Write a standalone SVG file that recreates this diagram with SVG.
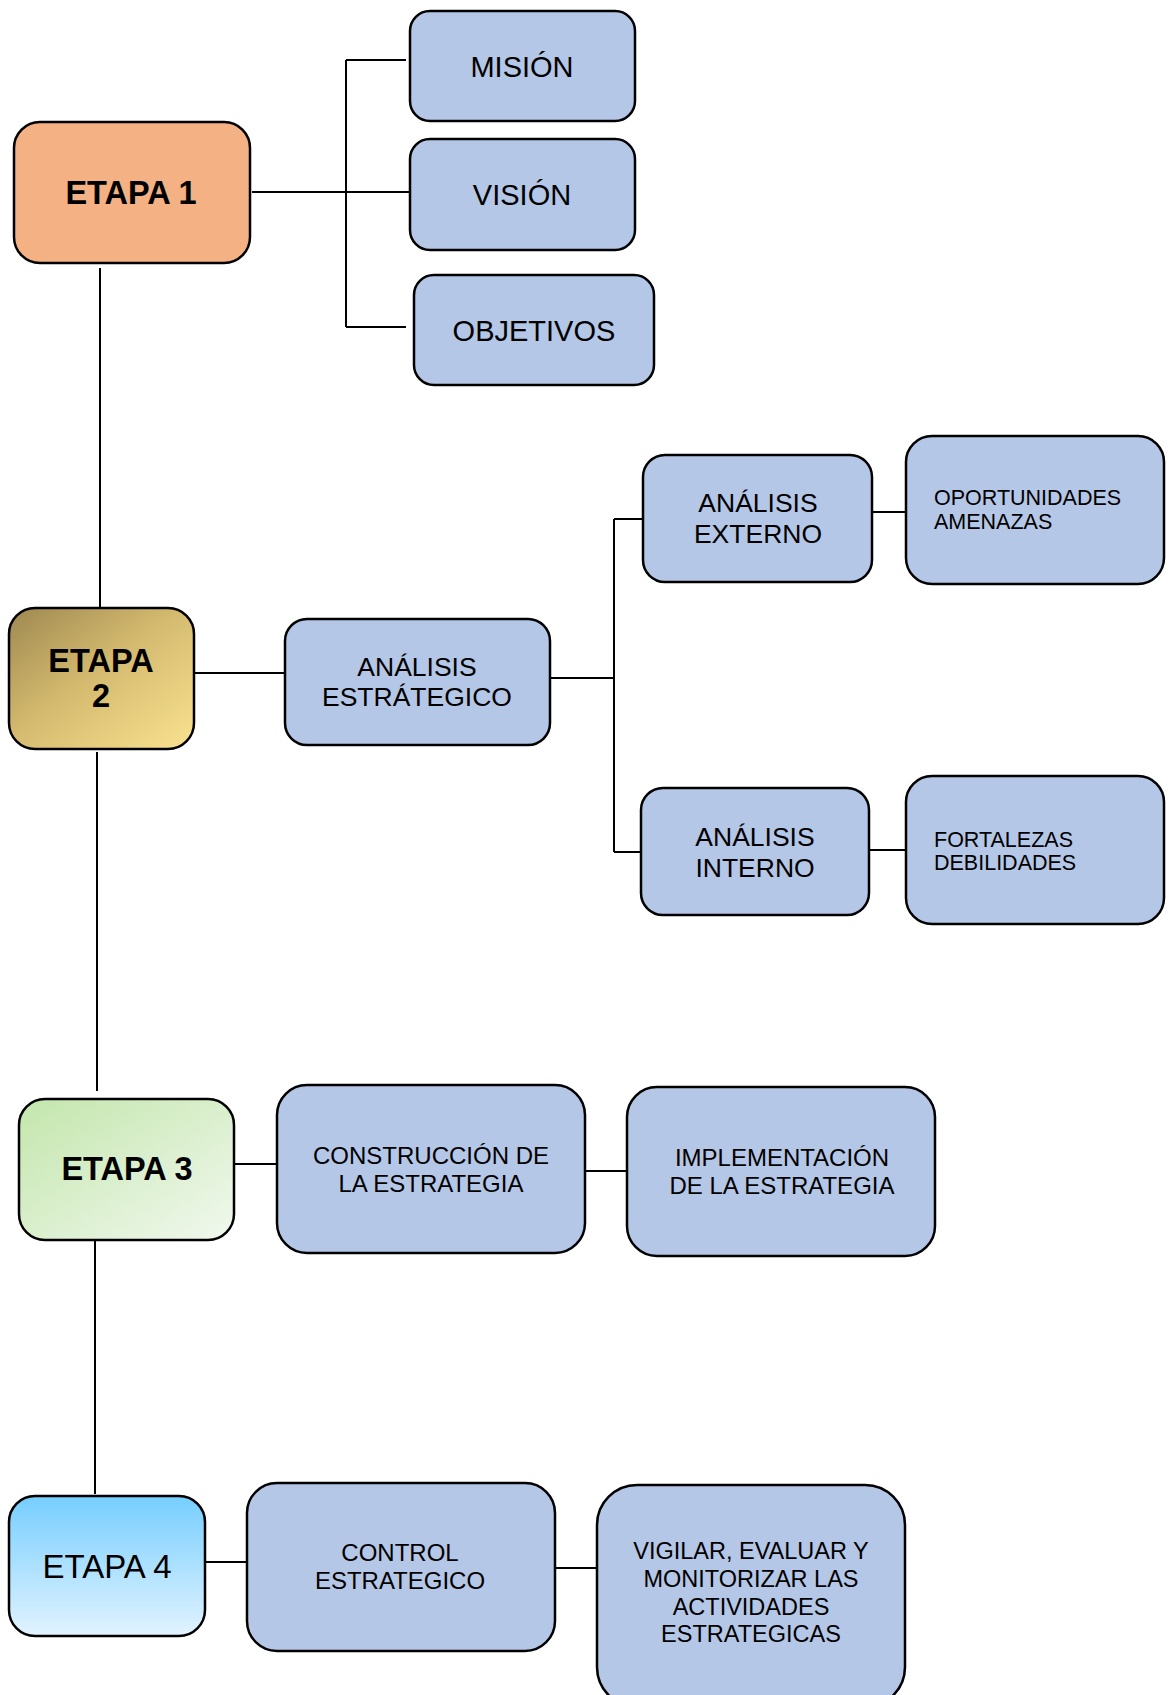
<svg xmlns="http://www.w3.org/2000/svg" width="1169" height="1695" viewBox="0 0 1169 1695">
<defs>
<linearGradient id="g2" x1="0" y1="0" x2="1" y2="1">
<stop offset="0" stop-color="#9E8851"/>
<stop offset="0.45" stop-color="#D3B96E"/>
<stop offset="1" stop-color="#F9E290"/>
</linearGradient>
<linearGradient id="g3" x1="0" y1="0" x2="1" y2="1">
<stop offset="0" stop-color="#C3E6AC"/>
<stop offset="1" stop-color="#F1F8EE"/>
</linearGradient>
<linearGradient id="g4" x1="0" y1="0" x2="0" y2="1">
<stop offset="0" stop-color="#76CEFF"/>
<stop offset="1" stop-color="#E2F3FF"/>
</linearGradient>
</defs>
<style>
.box{stroke:#000;stroke-width:2.5}
.blue{fill:#B4C7E7}
.t{font-family:"Liberation Sans",Arial,sans-serif;fill:#000;text-anchor:middle}
.b{font-weight:bold}
.l{text-anchor:start}
.c{stroke:#000;stroke-width:2;fill:none}
</style>
<g id="connectors">
<path class="c" d="M252 192H410"/>
<path class="c" d="M346 60V327M346 60H406M346 327H406"/>
<path class="c" d="M100 268V608"/>
<path class="c" d="M194 673H285"/>
<path class="c" d="M551 678H614"/>
<path class="c" d="M614 519V852M614 519H642M614 852H641"/>
<path class="c" d="M871 512H906"/>
<path class="c" d="M869 850H905"/>
<path class="c" d="M97 752V1091"/>
<path class="c" d="M235 1164H277"/>
<path class="c" d="M585 1171H627"/>
<path class="c" d="M95 1241V1494"/>
<path class="c" d="M205 1562H247"/>
<path class="c" d="M555 1568H597"/>
</g>
<g id="etapa1">
<rect class="box" x="14" y="122" width="236" height="141" rx="26" fill="#F4B183"/>
<text class="t b" x="131" y="204" font-size="32.5">ETAPA 1</text>
</g>
<g id="mision">
<rect class="box blue" x="410" y="11" width="225" height="110" rx="20"/>
<text class="t" x="522" y="77" font-size="29">MISIÓN</text>
</g>
<g id="vision">
<rect class="box blue" x="410" y="139" width="225" height="111" rx="20"/>
<text class="t" x="522" y="205" font-size="29">VISIÓN</text>
</g>
<g id="objetivos">
<rect class="box blue" x="414" y="275" width="240" height="110" rx="20"/>
<text class="t" x="534" y="341" font-size="29">OBJETIVOS</text>
</g>
<g id="etapa2">
<rect class="box" x="9" y="608" width="185" height="141" rx="26" fill="url(#g2)"/>
<text class="t b" x="101" y="672" font-size="32.5">ETAPA</text>
<text class="t b" x="101" y="707" font-size="32.5">2</text>
</g>
<g id="analisis-estrategico">
<rect class="box blue" x="285" y="619" width="265" height="126" rx="22"/>
<text class="t" x="417" y="676" font-size="26.5">ANÁLISIS</text>
<text class="t" x="417" y="706" font-size="26.5">ESTRÁTEGICO</text>
</g>
<g id="analisis-externo">
<rect class="box blue" x="643" y="455" width="229" height="127" rx="22"/>
<text class="t" x="758" y="512" font-size="26.5">ANÁLISIS</text>
<text class="t" x="758" y="543" font-size="26.5">EXTERNO</text>
</g>
<g id="oportunidades">
<rect class="box blue" x="906" y="436" width="258" height="148" rx="26"/>
<text class="t l" x="934" y="505" font-size="21.5">OPORTUNIDADES</text>
<text class="t l" x="934" y="529" font-size="21.5">AMENAZAS</text>
</g>
<g id="analisis-interno">
<rect class="box blue" x="641" y="788" width="228" height="127" rx="22"/>
<text class="t" x="755" y="846" font-size="26.5">ANÁLISIS</text>
<text class="t" x="755" y="877" font-size="26.5">INTERNO</text>
</g>
<g id="fortalezas">
<rect class="box blue" x="906" y="776" width="258" height="148" rx="26"/>
<text class="t l" x="934" y="847" font-size="21.5">FORTALEZAS</text>
<text class="t l" x="934" y="870" font-size="21.5">DEBILIDADES</text>
</g>
<g id="etapa3">
<rect class="box" x="19" y="1099" width="215" height="141" rx="26" fill="url(#g3)"/>
<text class="t b" x="127" y="1180" font-size="32.5">ETAPA 3</text>
</g>
<g id="construccion">
<rect class="box blue" x="277" y="1085" width="308" height="168" rx="30"/>
<text class="t" x="431" y="1164" font-size="24">CONSTRUCCIÓN DE</text>
<text class="t" x="431" y="1192" font-size="24">LA ESTRATEGIA</text>
</g>
<g id="implementacion">
<rect class="box blue" x="627" y="1087" width="308" height="169" rx="30"/>
<text class="t" x="782" y="1166" font-size="24">IMPLEMENTACIÓN</text>
<text class="t" x="782" y="1194" font-size="24">DE LA ESTRATEGIA</text>
</g>
<g id="etapa4">
<rect class="box" x="9" y="1496" width="196" height="140" rx="26" fill="url(#g4)"/>
<text class="t" x="107" y="1578" font-size="33">ETAPA 4</text>
</g>
<g id="control">
<rect class="box blue" x="247" y="1483" width="308" height="168" rx="30"/>
<text class="t" x="400" y="1561" font-size="24">CONTROL</text>
<text class="t" x="400" y="1589" font-size="24">ESTRATEGICO</text>
</g>
<g id="vigilar">
<rect class="box blue" x="597" y="1485" width="308" height="222" rx="40"/>
<text class="t" x="751" y="1559" font-size="23.5">VIGILAR, EVALUAR Y</text>
<text class="t" x="751" y="1587" font-size="23.5">MONITORIZAR LAS</text>
<text class="t" x="751" y="1615" font-size="23.5">ACTIVIDADES</text>
<text class="t" x="751" y="1642" font-size="23.5">ESTRATEGICAS</text>
</g>
</svg>
